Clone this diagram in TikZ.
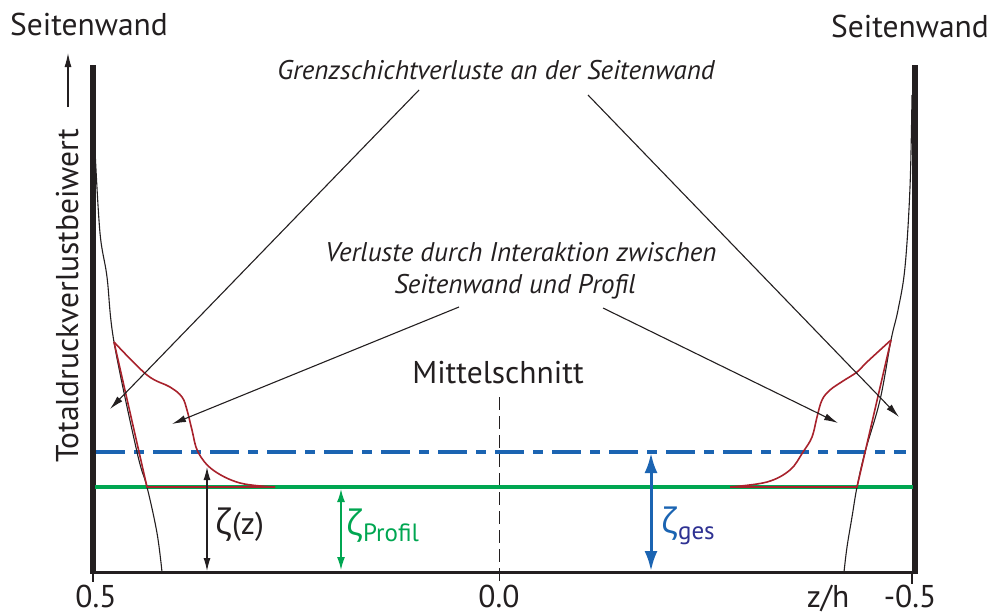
\documentclass[tikz,border=0pt]{standalone}
\usepackage{fontspec}
\setmainfont{PT Sans}
\newfontfamily\grk{Open Sans}
\newcommand{\zetabig}{{\grk\fontsize{35}{40}\selectfont ζ}}
\usetikzlibrary{arrows.meta}
\definecolor{cgreen}{RGB}{0,166,81}
\definecolor{cblue}{RGB}{27,100,178}
\definecolor{cindigo}{RGB}{46,49,146}
\definecolor{cred}{RGB}{168,34,44}
\definecolor{cblack}{RGB}{35,31,32}
\tikzset{
  lbl/.style={inner sep=0pt, anchor=base, text=cblack, font=\fontsize{31.5}{36}\selectfont},
  note/.style={inner sep=0pt, anchor=base, text=cblack, font=\fontsize{27}{32}\selectfont\itshape},
  wall/.style={cblack, line width=6.5pt},
  thinarrow/.style={cblack, line width=1.1pt, -{Latex[length=14pt,width=7pt]}},
  profile/.style={cblack, line width=1.1pt},
  loss/.style={cred, line width=1.6pt, line join=round},
}
\begin{document}
\begin{tikzpicture}[x=1pt,y=-1pt]
\useasboundingbox (0,0) rectangle (992,614);
% walls and axis
\coordinate (lwt) at (93,65);
\coordinate (lwb) at (93,573);
\coordinate (rwt) at (915,65);
\coordinate (rwb) at (915,573);
\draw[wall] (lwt) -- (lwb);
\draw[wall] (rwt) -- (rwb);
\draw[cblack, line width=3pt] (90,572) -- (918,572);
\draw[cblack, line width=1.5pt] (93,572) -- (93,582);
\draw[cblack, line width=1.5pt] (912,572) -- (912,584);
% mid section dashed
\coordinate (mt) at (499,397);
\coordinate (mb) at (499,583);
\draw[cblack, line width=1pt, dash pattern=on 13pt off 6pt] (mt) -- (mb);
% green and blue levels
\draw[cgreen, line width=3.5pt] (95,487) -- (913,487);
\draw[cblue, line width=3.5pt, dash pattern=on 29pt off 9pt on 10pt off 9pt] (96,452) -- (906,452);
% black profile curves
\draw[profile] plot[smooth, tension=0.6] coordinates {(95,150) (100,233) (107,277) (114,342) (137,452) (147,487) (157,533) (162,572)};
\draw[profile] plot[smooth, tension=0.6] coordinates {(912,95) (910,187) (905,267) (898,310) (891,340) (880,400) (865,452) (857,487) (852,517) (847,547) (844,572)};
% red loss regions
\draw[loss] (114,342) -- (147,487) -- (275,487);
\draw[loss] plot[smooth, tension=0.6] coordinates {(114,342) (147,375) (170,387) (182,397) (187,410) (192,430) (198,452) (213,470) (240,483) (275,487)};
\draw[loss] (891,340) -- (857,487) -- (730,487);
\draw[loss] plot[smooth, tension=0.6] coordinates {(891,340) (867,362) (857,372) (843,381) (830,390) (822,400) (817,417) (812,437) (803,452) (790,470) (767,482) (730,487)};
% texts
\node[lbl] (swl) at (89,35) {Seitenwand};
\node[lbl] (swr) at (910,37) {Seitenwand};
\node[note] (gs) at (496,79) {Grenzschichtverluste an der Seitenwand};
\node[note] (vi1) at (521,261) {Verluste durch Interaktion zwischen};
\node[note] (vi2) at (515,293) {Seitenwand und Profil};
\node[lbl] (ms) at (498,383) {Mittelschnitt};
\node[lbl, rotate=90] (ylab) at (78,296) {Totaldruckverlustbeiwert};
\node[lbl] (t05) at (96,607) {0.5};
\node[lbl] (t00) at (499,607) {0.0};
\node[lbl] (zh) at (828,607) {z/h};
\node[lbl] (tm05) at (910,607) {-0.5};
% y-axis arrow
\coordinate (ya1) at (68,107);
\coordinate (ya2) at (68,53);
\draw[thinarrow] (ya1) -- (ya2);
% annotation arrows
\coordinate (g1) at (419,90);
\coordinate (g2) at (588,95);
\coordinate (gt1) at (110,409);
\coordinate (gt2) at (899,417);
\draw[thinarrow] (g1) -- (gt1);
\draw[thinarrow] (g2) -- (gt2);
\coordinate (v1) at (459,307);
\coordinate (v2) at (603,308);
\coordinate (vt1) at (172,424);
\coordinate (vt2) at (838,423);
\draw[thinarrow] (v1) -- (vt1);
\draw[thinarrow] (v2) -- (vt2);
% zeta(z)
\coordinate (zz1) at (207,467);
\coordinate (zz2) at (207,571);
\draw[cblack, line width=1.1pt, {Latex[length=13pt,width=7pt]}-{Latex[length=13pt,width=7pt]}] (zz1) -- (zz2);
\node[lbl, anchor=base west] (zzl) at (215,534) {\zetabig(z)};
% zeta profil
\coordinate (zp1) at (341,489);
\coordinate (zp2) at (341,570);
\draw[cgreen, line width=1.5pt, {Latex[length=13pt,width=8pt]}-{Latex[length=13pt,width=8pt]}] (zp1) -- (zp2);
\node[lbl, anchor=base west, text=cgreen] (zpl) at (346,535) {\zetabig\raisebox{-6pt}{\fontsize{25}{30}\selectfont Profil}};
% zeta ges
\coordinate (zg1) at (651,453);
\coordinate (zg2) at (651,571);
\draw[cblue, line width=3pt, {Latex[length=20pt,width=13pt]}-{Latex[length=20pt,width=13pt]}] (zg1) -- (zg2);
\node[lbl, anchor=base west, text=cblue] (zgl) at (661,533) {\zetabig\raisebox{-6pt}{\fontsize{25}{30}\selectfont\color{cindigo}ges}};
\end{tikzpicture}
\end{document}
